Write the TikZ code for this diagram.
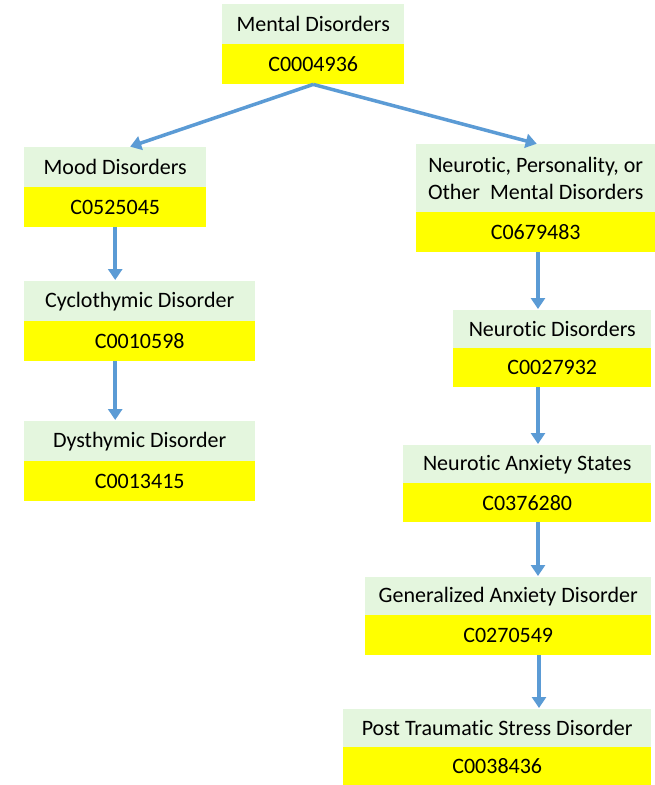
\documentclass[tikz,border=0pt]{standalone}
\usepackage{fontspec}
\setmainfont[Ligatures=NoCommon]{Carlito}
\usetikzlibrary{arrows.meta}
\definecolor{lgreen}{RGB}{228,246,222}
\definecolor{arrblue}{RGB}{91,155,213}
\definecolor{cyel}{RGB}{255,255,0}
\tikzset{
  gbox/.style={fill=lgreen, inner sep=0pt, anchor=north west, align=center,
    font=\fontsize{22}{26.5}\selectfont},
  ybox/.style={fill=cyel, inner sep=0pt, anchor=north west, align=center,
    font=\fontsize{22}{26.5}\selectfont},
  arr/.style={draw=arrblue, line width=3.5pt, -{Triangle[length=11pt,width=14pt]}, shorten >=1pt}
}
\newcommand\conceptbox[8]{%
  \node[gbox, minimum width=#3pt, minimum height=#5pt] (#1-g) at (#2,#4) {#7};
  \node[ybox, minimum width=#3pt, minimum height=#6pt] (#1-y) at (#2,#4+#5) {#8};}
\begin{document}
\begin{tikzpicture}[x=1pt,y=-1pt]
\fill[white] (0,0) rectangle (655,785);
\useasboundingbox (0,0) rectangle (655,785);
\conceptbox{md}{222}{182}{4}{40}{40}{Mental Disorders}{C0004936}
\conceptbox{mood}{24}{182}{147}{40}{40}{Mood Disorders}{C0525045}
\conceptbox{np}{416}{239}{144}{68}{40}{Neurotic, Personality, or\\Other\ \ Mental Disorders}{C0679483}
\conceptbox{cyc}{24}{231}{281}{40}{40}{Cyclothymic Disorder}{C0010598}
\conceptbox{dys}{24}{231}{421}{40}{40}{Dysthymic Disorder}{C0013415}
\conceptbox{nd}{453}{198}{310}{38}{39}{Neurotic Disorders}{C0027932}
\conceptbox{nas}{403}{248}{445}{38}{39}{Neurotic Anxiety States}{C0376280}
\conceptbox{gad}{365}{286}{577}{38}{40}{Generalized Anxiety Disorder}{C0270549}
\conceptbox{ptsd}{343}{308}{709}{38}{38}{Post Traumatic Stress Disorder}{C0038436}
\coordinate (rc) at (538,0);
\draw[arr] (md-y.south) -- ([xshift=14pt]mood-g.north);
\draw[arr] (md-y.south) -- ([xshift=2pt]np-g.north);
\draw[arr] (mood-y.south) -- (mood-y.south |- cyc-g.north);
\draw[arr] (cyc-y.south -| mood-y.south) -- (mood-y.south |- dys-g.north);
\draw[arr] (np-y.south -| rc) -- (nd-g.north -| rc);
\draw[arr] (nd-y.south -| rc) -- (nas-g.north -| rc);
\draw[arr] (nas-y.south -| rc) -- (gad-g.north -| rc);
\draw[arr] ([xshift=1pt]gad-y.south -| rc) -- ([xshift=1pt]ptsd-g.north -| rc);
\end{tikzpicture}
\end{document}
